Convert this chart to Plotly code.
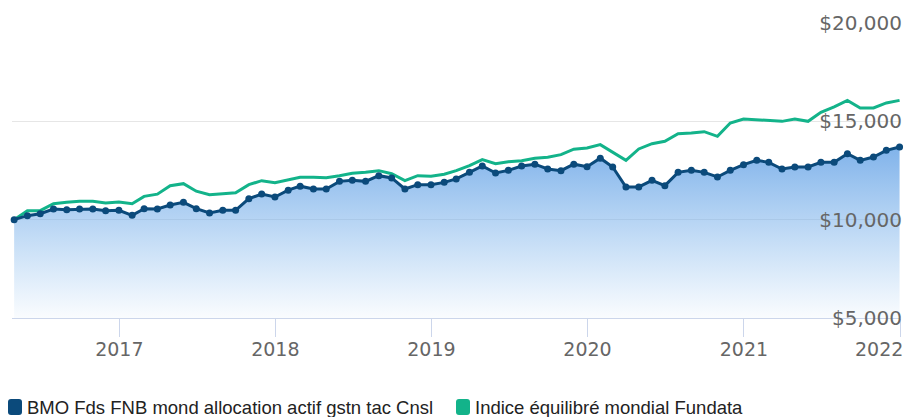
import pandas as pd
import plotly.graph_objects as go

# ---------------- data ----------------
dates = pd.date_range("2016-04-30", periods=69, freq="ME")

fund_name = "BMO Fds FNB mond allocation actif gstn tac Cnsl"
index_name = "Indice équilibré mondial Fundata"

fund_values = [
    10000, 10203, 10305, 10544, 10508, 10544, 10544, 10457, 10473, 10219,
    10559, 10544, 10747, 10880, 10559, 10340, 10473, 10473, 11068, 11306,
    11153, 11500, 11703, 11560, 11560, 11948, 11998, 11948, 12237, 12120,
    11560, 11780, 11780, 11897, 12070, 12405, 12730, 12374, 12507, 12730,
    12822, 12578, 12492, 12822, 12695, 13127, 12680, 11663, 11663, 11998,
    11729, 12405, 12507, 12405, 12171, 12507, 12797, 13015, 12914, 12578,
    12680, 12680, 12914, 12914, 13356, 13015, 13188, 13524, 13697,
]

index_values = [
    10000, 10458, 10458, 10814, 10880, 10931, 10931, 10849, 10900, 10814,
    11185, 11297, 11729, 11831, 11449, 11271, 11322, 11373, 11780, 11983,
    11881, 12009, 12161, 12161, 12136, 12237, 12365, 12415, 12492, 12339,
    11983, 12237, 12212, 12314, 12492, 12746, 13051, 12848, 12949, 13000,
    13127, 13178, 13305, 13585, 13646, 13814, 13422, 13015, 13595, 13865,
    13982, 14373, 14409, 14475, 14236, 14917, 15121, 15085, 15050, 14999,
    15121, 14999, 15456, 15731, 16067, 15680, 15680, 15934, 16067,
]

x_tick_vals = ["2017-01-01", "2018-01-01", "2019-01-01", "2020-01-01", "2021-01-01", "2022-01-01"]
x_tick_text = ["2017", "2018", "2019", "2020", "2021", "2022"]
y_tick_vals = [5000, 10000, 15000, 20000]
y_tick_text = ["$5,000", "$10,000", "$15,000", "$20,000"]

# ---------------- style ----------------
FUND_COLOR = "#0b4a7b"
INDEX_COLOR = "#13b38a"
W, H = 906, 417
L, R, T, B = 12, 6, 23, 99
PW, PH = W - L - R, H - T - B
TICK_FONT = dict(family="DejaVu Sans", size=19, color="#666666")

fig = go.Figure()

# gradient area under fund series
fig.add_trace(go.Scatter(
    x=dates, y=fund_values, mode="lines", line=dict(width=0, color=FUND_COLOR),
    fill="tozeroy",
    fillgradient=dict(type="vertical", start=5000, stop=13700,
                      colorscale=[[0, "rgba(124,181,236,0.04)"],
                                  [1, "rgba(114,170,232,0.9)"]]),
    showlegend=False, hoverinfo="skip",
))

fig.add_trace(go.Scatter(
    x=dates, y=index_values, mode="lines", name=index_name,
    line=dict(color=INDEX_COLOR, width=3), showlegend=False, cliponaxis=False,
))

fig.add_trace(go.Scatter(
    x=dates, y=fund_values, mode="lines+markers", name=fund_name,
    line=dict(color=FUND_COLOR, width=3),
    marker=dict(color=FUND_COLOR, size=7), showlegend=False, cliponaxis=False,
))

# ---------------- manual legend ----------------
def px2x(px):
    return (px - L) / PW

def py2y(py):
    return (H - B - py) / PH

def rounded_rect(x0, y0, x1, y1, r):
    def p(x, y):
        return f"{px2x(x):.5f},{py2y(y):.5f}"
    return (f"M {p(x0 + r, y0)} L {p(x1 - r, y0)} Q {p(x1, y0)} {p(x1, y0 + r)} "
            f"L {p(x1, y1 - r)} Q {p(x1, y1)} {p(x1 - r, y1)} "
            f"L {p(x0 + r, y1)} Q {p(x0, y1)} {p(x0, y1 - r)} "
            f"L {p(x0, y0 + r)} Q {p(x0, y0)} {p(x0 + r, y0)} Z")

legend_items = [(fund_name, FUND_COLOR, 8), (index_name, INDEX_COLOR, 456)]
shapes, annotations = [], []
for name, color, x0 in legend_items:
    shapes.append(dict(type="path", xref="paper", yref="paper",
                       path=rounded_rect(x0, 399, x0 + 14, 415, 3),
                       fillcolor=color, line=dict(width=0)))
    annotations.append(dict(xref="paper", yref="paper", x=px2x(x0 + 17), y=py2y(407.5),
                            xanchor="left", yanchor="middle", showarrow=False,
                            text=name, font=dict(family="Liberation Sans, Arial", size=18.5, color="#222")))

# last year label is right-justified to stay inside the canvas
x_tick_text_disp = x_tick_text[:-1] + [""]
annotations.append(dict(xref="paper", yref="paper", x=px2x(904), y=py2y(349),
                        xanchor="right", yanchor="middle", showarrow=False,
                        text=x_tick_text[-1], font=TICK_FONT, borderpad=0))

fig.update_layout(
    width=W, height=H,
    margin=dict(l=L, r=R, t=T, b=B, autoexpand=False),
    paper_bgcolor="white", plot_bgcolor="white",
    showlegend=False,
    shapes=shapes, annotations=annotations,
    font=dict(family="DejaVu Sans", color="#666666"),
)

x_start = dates[0] - pd.Timedelta(days=5)
fig.update_xaxes(
    type="date", automargin=False,
    range=[x_start, "2022-01-01"],
    tickmode="array", tickvals=x_tick_vals, ticktext=x_tick_text_disp,
    ticks="outside", ticklen=18, tickcolor="#ccd6eb", tickwidth=1,
    ticklabeloverflow="allow", ticklabelstandoff=-4,
    showline=True, linecolor="#ccd6eb", linewidth=1,
    showgrid=False, zeroline=False,
    tickfont=TICK_FONT,
)

fig.update_yaxes(
    range=[5000, 20000], automargin=False,
    tickmode="array", tickvals=y_tick_vals, ticktext=y_tick_text,
    side="right", ticklabelposition="inside", ticklabeloverflow="allow",
    ticklabelstandoff=-5,
    ticks="", showline=False, zeroline=False,
    gridcolor="#e6e6e6", gridwidth=1,
    tickfont=dict(family="DejaVu Sans", size=20, color="#666666"),
)

fig.write_html("out.html",
               config={"displayModeBar": False},
               post_script="document.body.style.margin='0';document.body.style.overflow='hidden';")
